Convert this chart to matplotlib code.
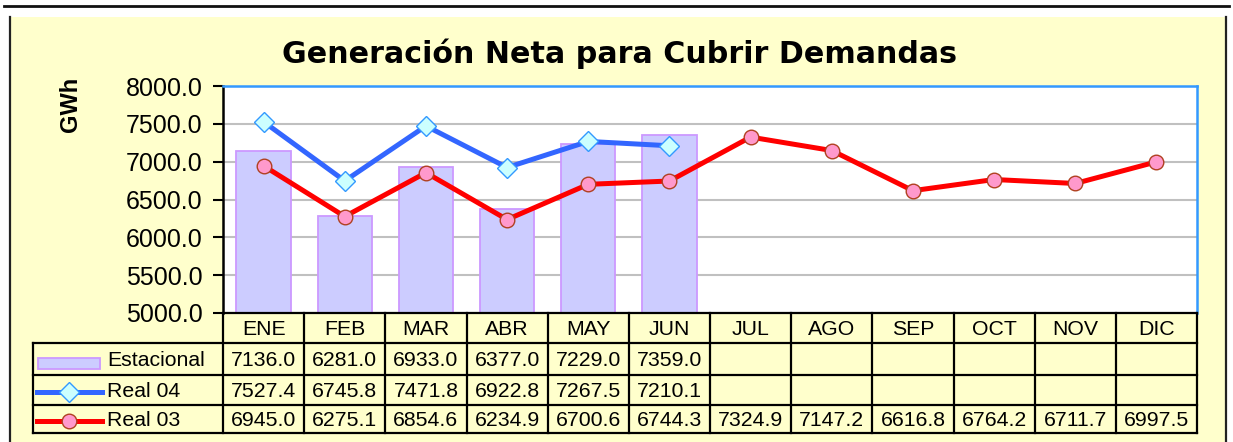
import matplotlib
matplotlib.use("Agg")
import matplotlib.pyplot as plt
from matplotlib.lines import Line2D
from matplotlib.patches import Rectangle
import numpy as np

months = ["ENE", "FEB", "MAR", "ABR", "MAY", "JUN", "JUL", "AGO", "SEP", "OCT", "NOV", "DIC"]
estacional = [7136.0, 6281.0, 6933.0, 6377.0, 7229.0, 7359.0]
real04 = [7527.4, 6745.8, 7471.8, 6922.8, 7267.5, 7210.1]
real03 = [6945.0, 6275.1, 6854.6, 6234.9, 6700.6, 6744.3, 7324.9, 7147.2, 6616.8, 6764.2, 6711.7, 6997.5]
series_names = ["Estacional", "Real 04", "Real 03"]
yticks = [5000, 5500, 6000, 6500, 7000, 7500, 8000]
title = "Generación Neta para Cubrir Demandas"
ylabel = "GWh"

W, H = 1233, 442
FONT = "Liberation Sans"
plt.rcParams['font.family'] = [FONT, 'DejaVu Sans']

fig = plt.figure(figsize=(W / 100, H / 100), dpi=100)
fig.patch.set_facecolor("white")

def fx(px):
    return px / W

def fy(py):
    return 1 - py / H

# top rule
fig.add_artist(Line2D([fx(4), fx(1229)], [fy(6), fy(6)], color="#111111", lw=2.0))
# cream panel
fig.add_artist(Rectangle((fx(10), 0), fx(1226) - fx(10), fy(17), facecolor="#FFFFCC",
                         edgecolor="none", zorder=0))
fig.add_artist(Line2D([fx(10), fx(10)], [0, fy(17)], color="#222222", lw=1.6))
fig.add_artist(Line2D([fx(1226), fx(1226)], [0, fy(17)], color="#222222", lw=1.6))

# plot area
L, R, T, B = 223, 1197, 86, 313
ax = fig.add_axes([fx(L), fy(B), fx(R) - fx(L), fy(T) - fy(B)])
ax.set_facecolor("white")
x_all = np.arange(len(months))
ax.set_xlim(-0.5, len(months) - 0.5)
ax.set_ylim(5000, 8000)

blue_kw = dict(color="#3366FF", lw=3.6, marker="D", markersize=10.5,
               markerfacecolor="#CCFFFF", markeredgecolor="#3399FF", markeredgewidth=1.0)
red_kw = dict(color="#FF0000", lw=3.6, marker="o", markersize=10.5,
              markerfacecolor="#FF99CC", markeredgecolor="#B04020", markeredgewidth=1.0)

ax.bar(x_all[:len(estacional)], estacional, width=0.67, color="#CCCCFF",
       edgecolor="#CC99FF", linewidth=1.3, zorder=2)
ax.plot(x_all[:len(real04)], real04, zorder=4, **blue_kw)
ax.plot(x_all, real03, zorder=3, **red_kw)

ax.set_yticks(yticks)
ax.set_yticklabels([f"{v:.1f}" for v in yticks], fontsize=18, fontfamily=FONT)
ax.tick_params(axis="y", direction="out", length=7, width=1.5, pad=7.5, colors="black")
ax.set_xticks([])
ax.yaxis.grid(True, color="#C0C0C0", lw=1.5, zorder=0)
ax.set_axisbelow(True)
ax.spines["left"].set_color("black")
ax.spines["left"].set_linewidth(1.8)
ax.spines["top"].set_color("#3399FF")
ax.spines["top"].set_linewidth(1.8)
ax.spines["right"].set_color("#3399FF")
ax.spines["right"].set_linewidth(1.8)
ax.spines["bottom"].set_visible(False)

fig.text(fx(620), fy(54), title, ha="center", va="center", fontsize=21.7, fontweight="bold",
         fontfamily="DejaVu Sans")
fig.text(fx(70), fy(104), ylabel, ha="center", va="center", fontsize=17, fontweight="bold",
         rotation=90, fontfamily=FONT)

# data table axes (pixel row boundaries)
TL = 33
unit = (R - L) / len(months)
left_units = (L - TL) / unit
row_edges = [313, 343, 375, 405, 433]
tax = fig.add_axes([fx(TL), fy(row_edges[-1]), fx(R) - fx(TL), fy(row_edges[0]) - fy(row_edges[-1])])
tax.set_xlim(-0.5 - left_units, len(months) - 0.5)
tax.set_ylim(row_edges[-1], row_edges[0])
tax.axis("off")
lk = dict(color="black", lw=1.6, clip_on=False, solid_capstyle="projecting")
xl = -0.5 - left_units
xr = len(months) - 0.5
tax.plot([-0.5, xr], [row_edges[0], row_edges[0]], **lk)
for yy in row_edges[1:]:
    tax.plot([xl, xr], [yy, yy], **lk)
tax.plot([xl, xl], [row_edges[1], row_edges[-1]], **lk)
for c in range(len(months) + 1):
    tax.plot([c - 0.5, c - 0.5], [row_edges[0], row_edges[-1]], **lk)

tfs = 15.3
mids = [(row_edges[i] + row_edges[i + 1]) / 2 + 1 for i in range(4)]
for i, m in enumerate(months):
    tax.text(i, mids[0], m, ha="center", va="center", fontsize=tfs, fontfamily=FONT)
rows = [estacional, real04, real03]
for r, vals in enumerate(rows):
    for i, v in enumerate(vals):
        tax.text(i, mids[r + 1], f"{v:.1f}", ha="center", va="center", fontsize=tfs,
                 fontfamily=FONT)
    tax.text(-0.5 - left_units * 0.61, mids[r + 1], series_names[r], ha="left", va="center",
             fontsize=tfs, fontfamily=FONT)

# legend keys
kx0 = xl + 4 / unit
kx1 = xl + 69 / unit
tax.add_patch(Rectangle((xl + 5 / unit, 358), 62 / unit, 11, facecolor="#CCCCFF",
                        edgecolor="#CC99FF", lw=1.3, clip_on=False))
tax.plot([kx0, kx1], [392, 392], color="#3366FF", lw=3.6, clip_on=False)
tax.plot([(kx0 + kx1) / 2], [392], linestyle="none", clip_on=False,
         **{k: v for k, v in blue_kw.items() if k not in ("color", "lw")})
tax.plot([kx0, kx1], [421, 421], color="#FF0000", lw=3.6, clip_on=False)
tax.plot([(kx0 + kx1) / 2], [421], linestyle="none", clip_on=False,
         **{k: v for k, v in red_kw.items() if k not in ("color", "lw")})

fig.savefig("out.png", dpi=100, facecolor=fig.get_facecolor())
